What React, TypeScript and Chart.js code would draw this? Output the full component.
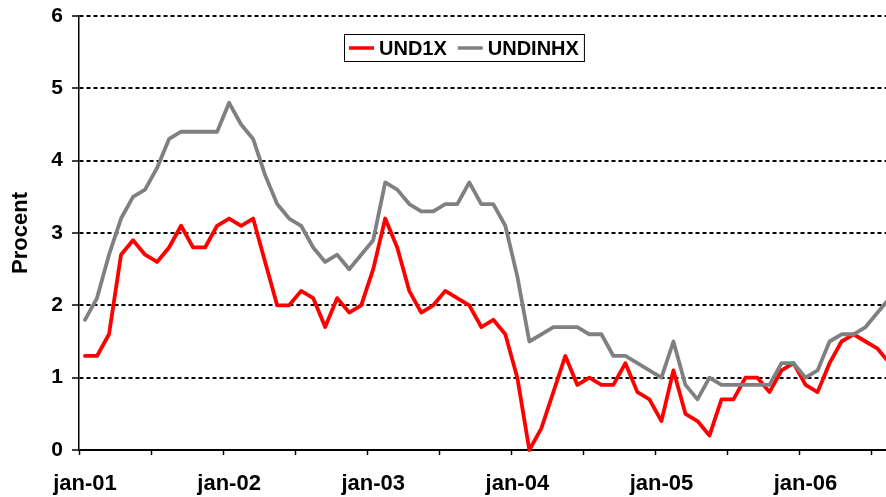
import React, { useEffect, useRef } from 'react';
import { Chart, registerables } from 'chart.js';

Chart.register(...registerables);

// ---- data ----
const months = [
  'jan-01', 'feb-01', 'mar-01', 'apr-01', 'maj-01', 'jun-01', 'jul-01', 'aug-01', 'sep-01', 'okt-01', 'nov-01', 'dec-01',
  'jan-02', 'feb-02', 'mar-02', 'apr-02', 'maj-02', 'jun-02', 'jul-02', 'aug-02', 'sep-02', 'okt-02', 'nov-02', 'dec-02',
  'jan-03', 'feb-03', 'mar-03', 'apr-03', 'maj-03', 'jun-03', 'jul-03', 'aug-03', 'sep-03', 'okt-03', 'nov-03', 'dec-03',
  'jan-04', 'feb-04', 'mar-04', 'apr-04', 'maj-04', 'jun-04', 'jul-04', 'aug-04', 'sep-04', 'okt-04', 'nov-04', 'dec-04',
  'jan-05', 'feb-05', 'mar-05', 'apr-05', 'maj-05', 'jun-05', 'jul-05', 'aug-05', 'sep-05', 'okt-05', 'nov-05', 'dec-05',
  'jan-06', 'feb-06', 'mar-06', 'apr-06', 'maj-06', 'jun-06', 'jul-06', 'aug-06',
];

const und1x = [
  1.3, 1.3, 1.6, 2.7, 2.9, 2.7, 2.6, 2.8, 3.1, 2.8, 2.8, 3.1,
  3.2, 3.1, 3.2, 2.6, 2.0, 2.0, 2.2, 2.1, 1.7, 2.1, 1.9, 2.0,
  2.5, 3.2, 2.8, 2.2, 1.9, 2.0, 2.2, 2.1, 2.0, 1.7, 1.8, 1.6,
  1.0, 0.0, 0.3, 0.8, 1.3, 0.9, 1.0, 0.9, 0.9, 1.2, 0.8, 0.7,
  0.4, 1.1, 0.5, 0.4, 0.2, 0.7, 0.7, 1.0, 1.0, 0.8, 1.1, 1.2,
  0.9, 0.8, 1.2, 1.5, 1.6, 1.5, 1.4, 1.2,
];

const undinhx = [
  1.8, 2.1, 2.7, 3.2, 3.5, 3.6, 3.9, 4.3, 4.4, 4.4, 4.4, 4.4,
  4.8, 4.5, 4.3, 3.8, 3.4, 3.2, 3.1, 2.8, 2.6, 2.7, 2.5, 2.7,
  2.9, 3.7, 3.6, 3.4, 3.3, 3.3, 3.4, 3.4, 3.7, 3.4, 3.4, 3.1,
  2.4, 1.5, 1.6, 1.7, 1.7, 1.7, 1.6, 1.6, 1.3, 1.3, 1.2, 1.1,
  1.0, 1.5, 0.9, 0.7, 1.0, 0.9, 0.9, 0.9, 0.9, 0.9, 1.2, 1.2,
  1.0, 1.1, 1.5, 1.6, 1.6, 1.7, 1.9, 2.1,
];

const seriesNames = ['UND1X', 'UNDINHX'];
const seriesColors = ['#FF0000', '#808080'];
const yAxisTitle = 'Procent';
const yMin = 0;
const yMax = 6;
const yStep = 1;
const monthsPerTickMark = 6;
const monthsPerLabel = 12;

const FONT = '"Liberation Sans", Arial, sans-serif';

const boxLegend = {
  id: 'boxLegend',
  afterDraw(chart: any, _args: any, opts: any) {
    const ctx = chart.ctx as CanvasRenderingContext2D;
    ctx.save();
    ctx.font = opts.font;
    const items = chart.data.datasets.map((ds: any) => ({ label: ds.label, color: ds.borderColor }));
    const { sample, gap, pad, itemGap, x: x0, y: y0, height: h } = opts;
    let w = pad;
    items.forEach((it: any, i: number) => {
      w += sample + gap + ctx.measureText(it.label).width + (i < items.length - 1 ? itemGap : 0);
    });
    w += pad;
    ctx.fillStyle = '#ffffff';
    ctx.fillRect(x0, y0, w, h);
    ctx.strokeStyle = '#000000';
    ctx.lineWidth = 1;
    ctx.strokeRect(x0 + 0.5, y0 + 0.5, w, h);
    const cy = y0 + h / 2 + 0.5;
    let x = x0 + pad;
    items.forEach((it: any) => {
      ctx.strokeStyle = it.color;
      ctx.lineWidth = 3.5;
      ctx.beginPath();
      ctx.moveTo(x, cy);
      ctx.lineTo(x + sample, cy);
      ctx.stroke();
      x += sample + gap;
      ctx.fillStyle = '#000000';
      ctx.textBaseline = 'middle';
      ctx.textAlign = 'left';
      ctx.fillText(it.label, x, cy + 1);
      x += ctx.measureText(it.label).width + itemGap;
    });
    ctx.restore();
  },
};

export default function App() {
  const canvasRef = useRef<HTMLCanvasElement | null>(null);

  useEffect(() => {
    if (!canvasRef.current) return;
    const toPoints = (vals: number[]) => vals.map((v, i) => ({ x: i, y: v }));
    const chart = new Chart(canvasRef.current, {
      type: 'line',
      data: {
        datasets: [
          {
            label: seriesNames[0],
            data: toPoints(und1x),
            borderColor: seriesColors[0],
            backgroundColor: seriesColors[0],
            borderWidth: 3.8,
            pointRadius: 0,
            tension: 0,
            borderJoinStyle: 'round',
            borderCapStyle: 'round',
            order: 1,
            clip: { left: 0, right: 0, top: 4, bottom: 4 },
          },
          {
            label: seriesNames[1],
            data: toPoints(undinhx),
            borderColor: seriesColors[1],
            backgroundColor: seriesColors[1],
            borderWidth: 3.8,
            pointRadius: 0,
            tension: 0,
            borderJoinStyle: 'round',
            borderCapStyle: 'round',
            order: 0,
            clip: { left: 0, right: 0, top: 4, bottom: 4 },
          },
        ] as any,
      },
      plugins: [boxLegend as any],
      options: {
        animation: false,
        responsive: false,
        events: [],
        layout: { padding: { top: 16, right: 0, left: 0, bottom: 0 } },
        plugins: {
          legend: { display: false },
          tooltip: { enabled: false },
          boxLegend: {
            font: `bold 20px ${FONT}`,
            x: 344,
            y: 34,
            height: 27,
            sample: 25,
            gap: 5,
            pad: 5,
            itemGap: 11,
          },
        } as any,
        scales: {
          x: {
            type: 'linear',
            min: -0.5,
            max: 66.7,
            afterFit: (scale: any) => {
              scale.height = 47;
              scale.paddingLeft = 0;
              scale.paddingRight = 0;
            },
            afterBuildTicks: (scale: any) => {
              const ticks: any[] = [];
              for (let v = -0.5; v <= scale.max; v += monthsPerTickMark) ticks.push({ value: v });
              scale.ticks = ticks;
            },
            ticks: {
              autoSkip: false,
              maxRotation: 0,
              minRotation: 0,
              padding: 16,
              labelOffset: 6,
              color: '#000000',
              font: { family: FONT, size: 22, weight: 'bold' },
              callback: (value: any) => {
                const idx = Math.round(Number(value) + 0.5);
                return idx % monthsPerLabel === 0 && months[idx] ? months[idx] : '';
              },
            },
            grid: {
              display: true,
              drawOnChartArea: false,
              drawTicks: true,
              tickLength: 5,
              tickColor: '#000000',
              tickWidth: 1.5,
            },
            border: { display: true, color: '#000000', width: 2 },
          },
          y: {
            type: 'linear',
            min: yMin,
            max: yMax,
            afterFit: (scale: any) => {
              scale.width = 79;
              scale.paddingTop = 0;
              scale.paddingBottom = 0;
            },
            ticks: {
              stepSize: yStep,
              padding: 9,
              color: '#000000',
              font: { family: FONT, size: 21, weight: 'bold' },
            },
            grid: {
              display: true,
              color: '#000000',
              lineWidth: 2,
              drawTicks: true,
              tickLength: 7,
              tickColor: '#000000',
              tickWidth: 1.5,
            },
            border: { display: true, color: '#000000', width: 1.5, dash: [4, 3] },
            title: {
              display: true,
              text: yAxisTitle,
              color: '#000000',
              font: { family: FONT, size: 22, weight: 'bold' },
              padding: { top: 8, bottom: 0 },
            },
          },
        },
      } as any,
    });
    return () => chart.destroy();
  }, []);

  return (
    <div style={{ position: 'fixed', left: 0, top: 0, width: 886, height: 497, overflow: 'hidden', background: '#fff' }}>
      <canvas ref={canvasRef} width={886} height={497} style={{ width: 886, height: 497, display: 'block' }} />
    </div>
  );
}
